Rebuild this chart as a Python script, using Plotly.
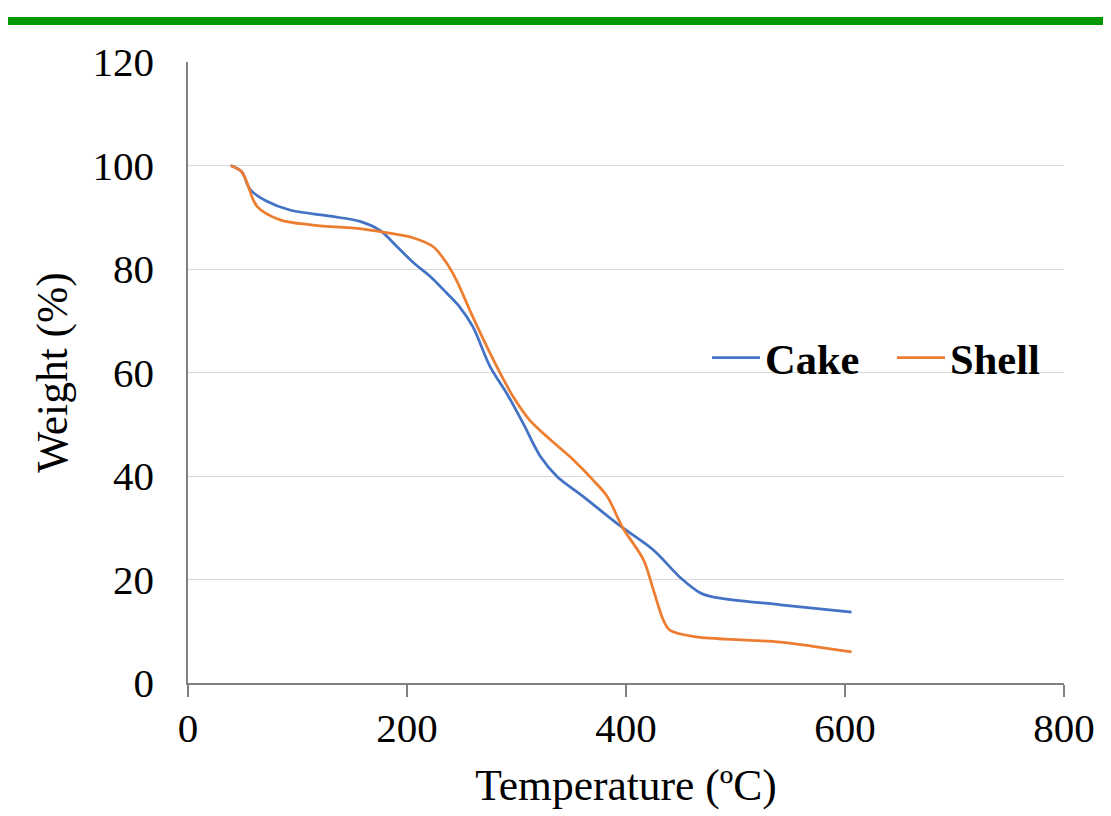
import plotly.graph_objects as go

# Cake (blue) TGA curve
cake_temp = [39, 49, 57, 72, 93, 130, 157, 175, 191, 206, 221, 236, 248, 260, 276,
             291, 306, 322, 337, 361, 395, 425, 449, 468, 480, 541, 606]
cake_weight = [100, 98.8, 95.3, 93.1, 91.4, 90.2, 89.2, 87.5, 84.3, 81.2, 78.6, 75.4,
               72.7, 68.9, 61.1, 56.0, 50.2, 43.7, 39.9, 36.0, 30.3, 25.7, 20.5, 17.4,
               16.6, 15.1, 13.7]

# Shell (orange) TGA curve
shell_temp = [39, 49, 54, 63, 84, 114, 160, 182, 206, 224, 236, 245, 260, 279, 297,
              312, 331, 352, 370, 383, 397, 416, 425, 434, 440, 464, 510, 541, 606]
shell_weight = [100, 98.8, 96.6, 92.1, 89.5, 88.5, 87.7, 87.0, 86.0, 84.3, 81.2, 77.9,
                70.8, 62.4, 55.3, 50.8, 47.0, 43.1, 39.2, 36.0, 30.0, 23.8, 18.0, 12.2,
                10.2, 8.9, 8.3, 7.9, 6.0]

x_ticks = [0, 200, 400, 600, 800]
y_ticks = [0, 20, 40, 60, 80, 100, 120]

FONT = "Liberation Serif, Times New Roman, serif"

fig = go.Figure()
fig.add_trace(go.Scatter(x=cake_temp, y=cake_weight, mode="lines", name="Cake", legend="legend",
                         line=dict(color="#4472C4", width=2.75, shape="spline", smoothing=0.9)))
fig.add_trace(go.Scatter(x=shell_temp, y=shell_weight, mode="lines", name="Shell", legend="legend2",
                         line=dict(color="#ED7D31", width=2.75, shape="spline", smoothing=0.9)))

# page body has an 8px margin, so the figure is 8px smaller than the window
W, H = 1103, 808
L, R, T, B = 180, 47, 54, 133
pw, ph = W - L - R, H - T - B
OFF = 8  # screen offset of the figure

def px_x(p):
    return (p - OFF - L) / pw

def px_y(p):
    return (H - B - (p - OFF)) / ph

legend_font = dict(family=FONT, size=42.5, color="black", weight="bold")

fig.update_layout(
    width=W, height=H,
    margin=dict(l=L, r=R, t=T, b=B, autoexpand=False),
    paper_bgcolor="white", plot_bgcolor="white",
    font=dict(family=FONT, size=41, color="black"),
    showlegend=True,
    legend=dict(orientation="h", x=px_x(707), y=px_y(358), xanchor="left", yanchor="middle",
                bgcolor="rgba(0,0,0,0)", font=legend_font, itemwidth=48),
    legend2=dict(orientation="h", x=px_x(892), y=px_y(358), xanchor="left", yanchor="middle",
                 bgcolor="rgba(0,0,0,0)", font=legend_font, itemwidth=48),
    xaxis=dict(range=[0, 800], tickvals=x_ticks, showgrid=False, zeroline=False,
               showline=True, linecolor="#808080", linewidth=1.5, automargin=False,
               ticks="outside", ticklen=12, tickcolor="#808080", tickwidth=1.5,
               ticklabelstandoff=-4,
               tickfont=dict(family=FONT, size=41, color="black"),
               title=dict(text="Temperature (ºC)", font=dict(family=FONT, size=43.5, color="black"),
                          standoff=20)),
    yaxis=dict(range=[0, 120], tickvals=y_ticks, showgrid=True, gridcolor="#d9d9d9",
               gridwidth=1.2, zeroline=False, showline=True, linecolor="#808080", linewidth=1.5,
               automargin=False,
               ticks="outside", ticklen=24, tickcolor="rgba(0,0,0,0)",
               tickfont=dict(family=FONT, size=41, color="black"),
               title=dict(text="Weight (%)", font=dict(family=FONT, size=43.5, color="black"),
                          standoff=11)),
    shapes=[
        dict(type="rect", xref="paper", yref="paper", x0=px_x(OFF), x1=px_x(OFF + W),
             y0=px_y(25), y1=px_y(17), fillcolor="#009900", line=dict(width=0), layer="above"),
    ],
)

fig.write_html("out.html")
